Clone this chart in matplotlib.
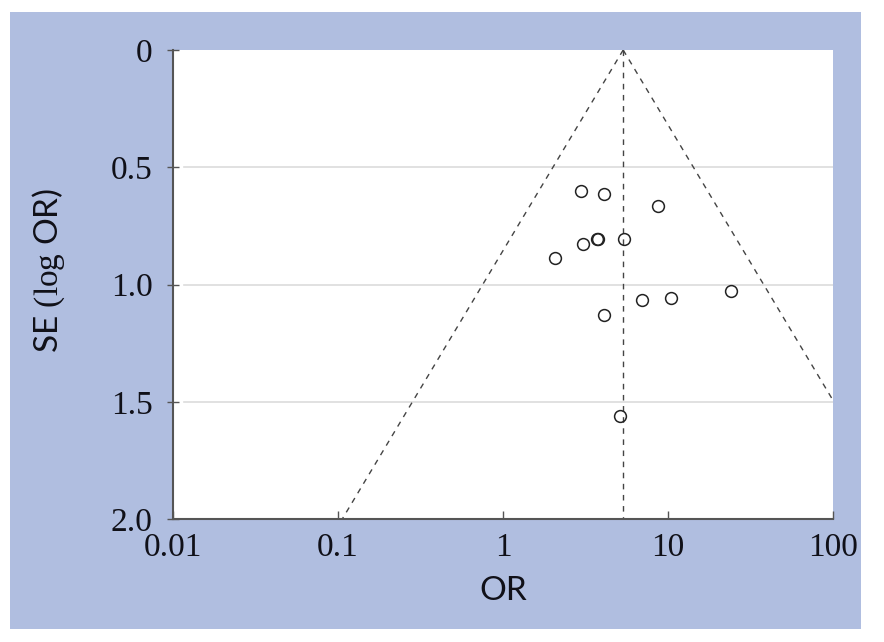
import numpy as np
import matplotlib
matplotlib.use("Agg")
import matplotlib.pyplot as plt
from matplotlib.patches import Rectangle

# Data
odds_ratio = [2.97, 4.09, 8.7, 3.07, 3.69, 3.79, 5.41, 2.06, 4.07, 6.95, 10.5, 24.1, 5.12]
se_log_or = [0.601, 0.614, 0.665, 0.829, 0.808, 0.808, 0.807, 0.887, 1.130, 1.066, 1.056, 1.028, 1.561]
pooled_or = 5.35
x_ticks = [0.01, 0.1, 1, 10, 100]
x_tick_labels = ["0.01", "0.1", "1", "10", "100"]
y_ticks = [0, 0.5, 1.0, 1.5, 2.0]
y_tick_labels = ["0", "0.5", "1.0", "1.5", "2.0"]

plt.rcParams['mathtext.fontset'] = 'custom'
plt.rcParams['mathtext.rm'] = 'Liberation Serif'

fig = plt.figure(figsize=(8.84, 6.42), dpi=100, facecolor='white')
fig.patches.append(Rectangle((10/884, 1-629/642), 851/884, 617/642,
                             transform=fig.transFigure, facecolor='#B0BEE0',
                             edgecolor='none', zorder=-10))
ax = fig.add_axes([173/884, 1-519/642, 660/884, 469/642])
ax.set_zorder(1)
ax.set_facecolor('white')

ax.set_xscale('log')
ax.set_xlim(0.01, 100)
ax.set_ylim(2.0, 0)

# grid lines at inner ticks
for yv in y_ticks[1:-1]:
    ax.axhline(yv, xmin=0.016, color='#dcdcdc', lw=1.2, zorder=1)

# funnel
se = np.array([0, 2.0])
c = np.log(pooled_or)
ax.plot(np.exp(c - 1.96*se), se, ls=(0, (4, 4)), color='#444444', lw=1.0, zorder=2)
ax.plot(np.exp(c + 1.96*se), se, ls=(0, (4, 4)), color='#444444', lw=1.0, zorder=2)
ax.plot([pooled_or, pooled_or], [0, 2.0], ls=(0, (4, 4)), color='#444444', lw=1.0, zorder=2)

ax.plot(odds_ratio, se_log_or, ls='none', marker='o', markersize=8.5,
        markerfacecolor='none', markeredgecolor='#222222', markeredgewidth=1.1, zorder=3)

for s in ['top', 'right']:
    ax.spines[s].set_visible(False)
for s in ['left', 'bottom']:
    ax.spines[s].set_color('#555555')
    ax.spines[s].set_linewidth(1.5)

ax.set_xticks(x_ticks)
ax.set_xticklabels(x_tick_labels)
ax.minorticks_off()
ax.set_yticks(y_ticks)
ax.set_yticklabels(y_tick_labels)
ax.tick_params(axis='x', direction='in', length=6, width=1, color='#555555',
               pad=10, labelsize=24, labelcolor='#101018')
ax.tick_params(axis='y', direction='inout', length=9, width=1, color='#555555',
               pad=10, labelsize=24, labelcolor='#101018')
for lab in ax.get_xticklabels() + ax.get_yticklabels():
    lab.set_fontfamily('Liberation Serif')

ax.set_xlabel('OR', fontsize=24, fontfamily='Lato', color='#101018')
ax.set_ylabel(r'SE $\mathrm{(log}$ OR)', fontsize=24, fontfamily='Lato',
              color='#101018')
ax.xaxis.set_label_coords(0.5, -0.122)
ax.yaxis.set_label_coords(-0.161, 0.531)

fig.savefig('out.png', dpi=100, facecolor='white')
